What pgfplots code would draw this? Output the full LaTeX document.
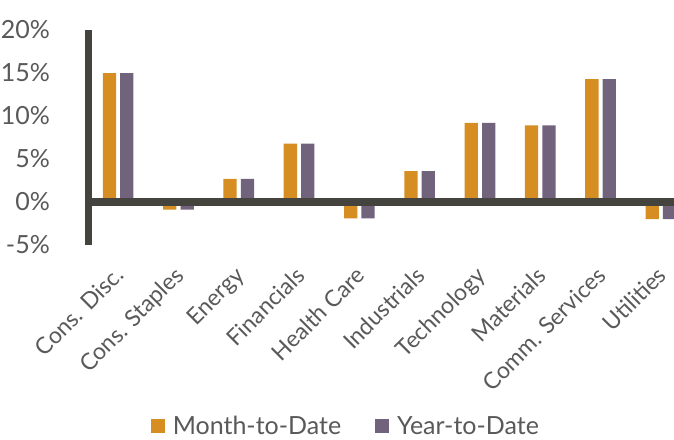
\documentclass[border=0pt]{standalone}
\usepackage{fontspec}
\setmainfont{Lato}
\usepackage{pgfplots}
\usepackage{pgfplotstable}
\pgfplotsset{compat=1.18}

\definecolor{mtd}{HTML}{D68E22}
\definecolor{ytd}{HTML}{71637C}
\definecolor{axisdark}{HTML}{45433D}
\definecolor{labelgray}{HTML}{595959}

% sector returns, in percent
\pgfplotstableread{
idx mtd ytd
0 15.0 15.0
1 -0.9 -0.9
2 2.7 2.7
3 6.8 6.8
4 -1.9 -1.9
5 3.6 3.6
6 9.2 9.2
7 8.9 8.9
8 14.3 14.3
9 -2.0 -2.0
}\sectordata

\begin{document}
\begin{tikzpicture}
\useasboundingbox (0,0) rectangle (674pt,439pt);
\begin{axis}[
    at={(88pt,194pt)}, anchor=south west,
    scale only axis, width=586pt, height=215pt,
    xmin=-0.5, xmax=9.218, ymin=-5, ymax=20,
    clip=false,
    axis line style={draw=none},
    tick style={draw=none},
    ytick={-5,0,5,10,15,20},
    yticklabels={-5\%,0\%,5\%,10\%,15\%,20\%},
    yticklabel style={anchor=east, inner sep=0pt, xshift=-38pt,
        font=\fontsize{25}{30}\selectfont, text=labelgray},
    xtick={0,...,9},
    xticklabels={Cons. Disc., Cons. Staples, Energy, Financials, Health Care,
        Industrials, Technology, Materials, Comm. Services, Utilities},
    xticklabel style={xshift=-5pt, yshift=-20pt, rotate=45,
        anchor=north east, inner sep=0pt,
        font=\fontsize{23}{28}\selectfont, text=labelgray},
    bar width=0.22,
    legend columns=2,
    legend style={at={(0.44,-0.842)}, anchor=center, draw=none,
        font=\fontsize{25}{30}\selectfont, text=labelgray,
        /tikz/every odd column/.append style={column sep=6pt},
        /tikz/every even column/.append style={column sep=32pt}},
]
\addplot[ybar, bar shift=-0.144, fill=mtd, draw=none,
    legend image code/.code={\fill[mtd] (0pt,-7pt) rectangle (14pt,7pt);}]
    table[x=idx, y=mtd] {\sectordata};
\addlegendentry{Month-to-Date}
\addplot[ybar, bar shift=0.144, fill=ytd, draw=none,
    legend image code/.code={\fill[ytd] (0pt,-7pt) rectangle (14pt,7pt);}]
    table[x=idx, y=ytd] {\sectordata};
\addlegendentry{Year-to-Date}
\draw[line width=7.5pt, axisdark] (axis cs:-0.5,0) -- (axis cs:9.218,0);
\draw[line width=7pt, axisdark] (axis cs:-0.5,-5) -- (axis cs:-0.5,20);
\end{axis}
\end{tikzpicture}
\end{document}
